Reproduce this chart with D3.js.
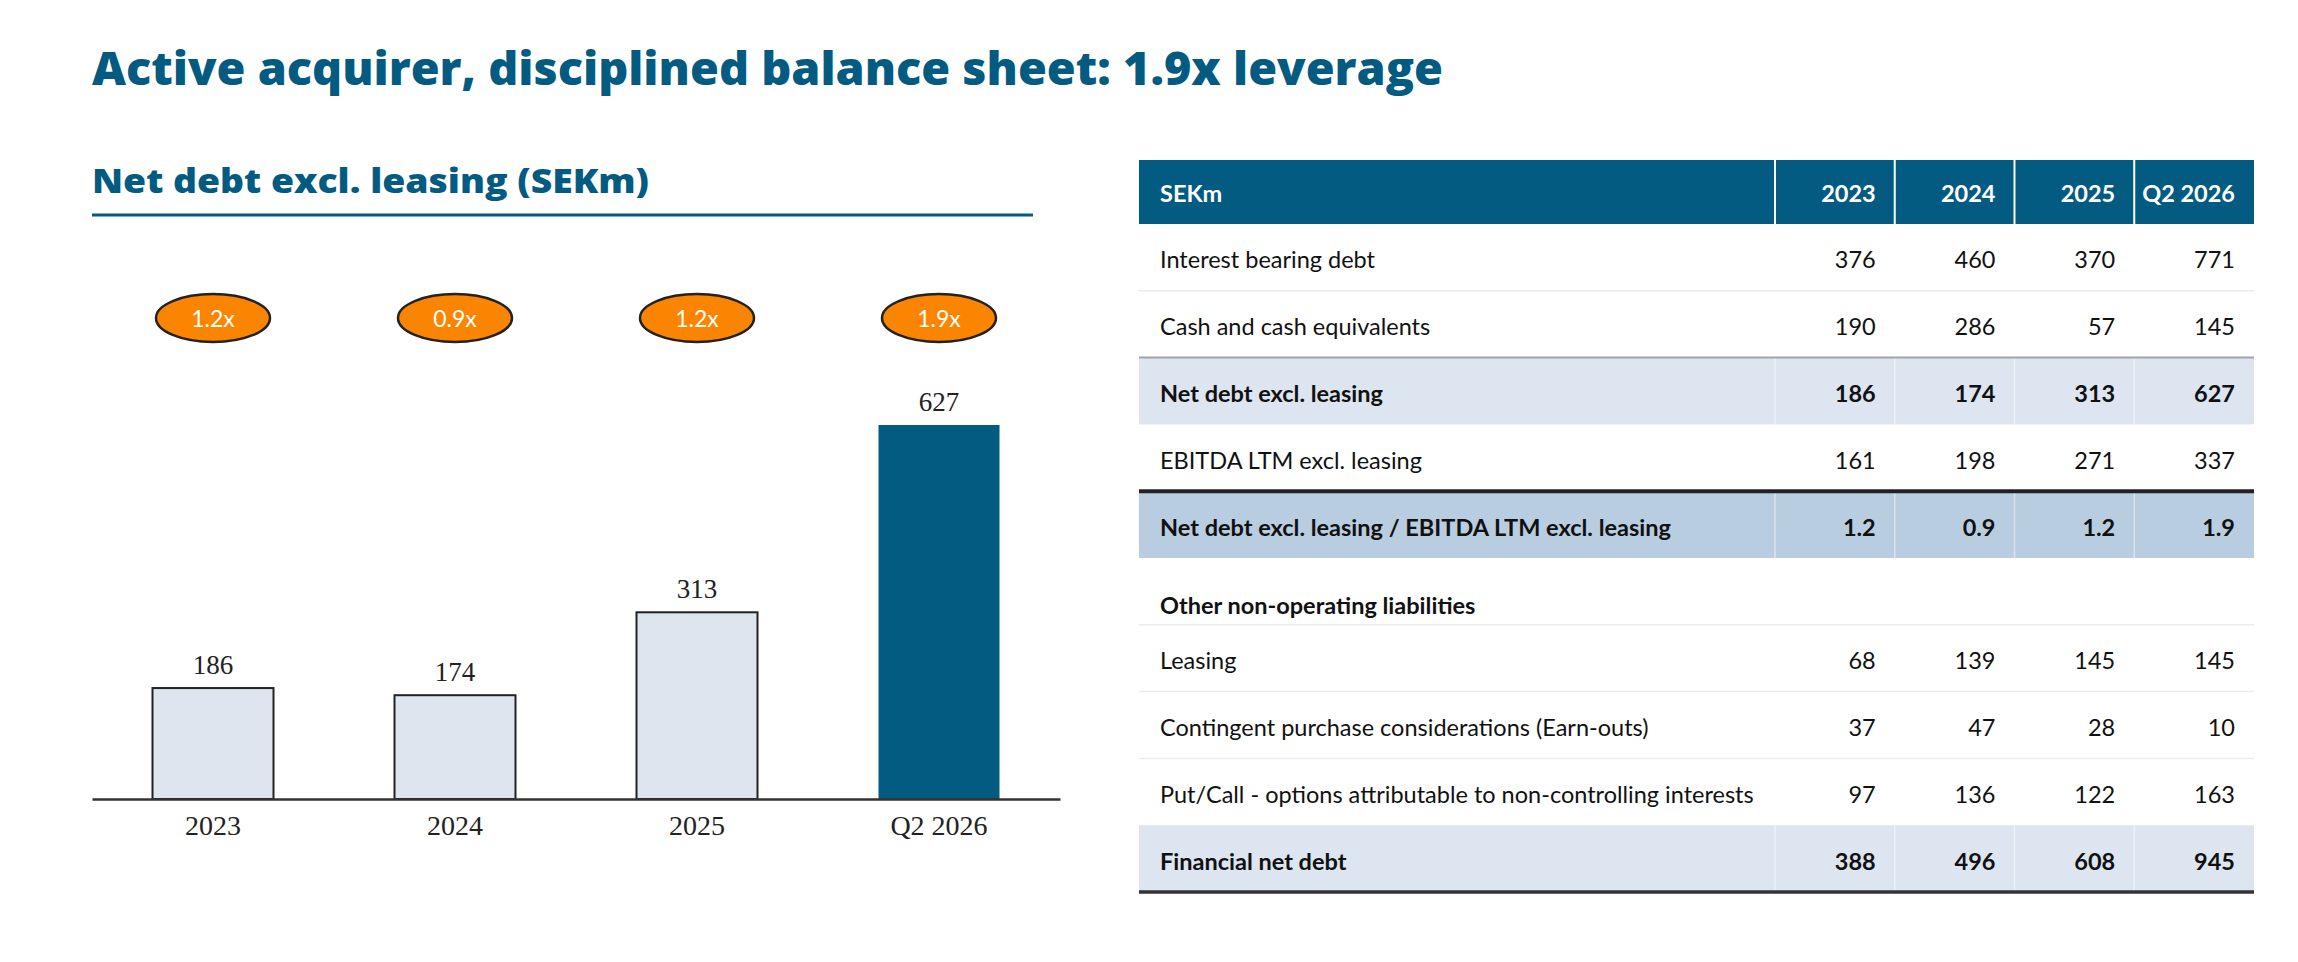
<!DOCTYPE html>
<html>
<head>
<meta charset="utf-8">
<script src="https://cdn.jsdelivr.net/npm/d3@7.9.0/dist/d3.min.js"></script>
<style>
  body { margin: 0; background: #fff; }
  svg { display: block; }
</style>
</head>
<body>
<script>
// chart data
const years = ['2023', '2024', '2025', 'Q2 2026'];
const netDebt = [186, 174, 313, 627];
const leverage = ['1.2x', '0.9x', '1.2x', '1.9x'];

// table data
const tableHeader = 'SEKm';
const interestBearingDebt = [376, 460, 370, 771];
const cashEquivalents = [190, 286, 57, 145];
const netDebtRow = [186, 174, 313, 627];
const ebitdaLtm = [161, 198, 271, 337];
const leverageRatio = [1.2, 0.9, 1.2, 1.9];
const leasing = [68, 139, 145, 145];
const earnOuts = [37, 47, 28, 10];
const putCall = [97, 136, 122, 163];
const financialNetDebt = [388, 496, 608, 945];

const rows = [
    { label: 'Interest bearing debt', values: interestBearingDebt, kind: 'plain' },
    { label: 'Cash and cash equivalents', values: cashEquivalents, kind: 'plain' },
    { label: 'Net debt excl. leasing', values: netDebtRow, kind: 'total' },
    { label: 'EBITDA LTM excl. leasing', values: ebitdaLtm, kind: 'plain' },
    { label: 'Net debt excl. leasing / EBITDA LTM excl. leasing', values: leverageRatio, kind: 'ratio' },
    { label: 'Other non-operating liabilities', values: null, kind: 'section' },
    { label: 'Leasing', values: leasing, kind: 'plain' },
    { label: 'Contingent purchase considerations (Earn-outs)', values: earnOuts, kind: 'plain' },
    { label: 'Put/Call - options attributable to non-controlling interests', values: putCall, kind: 'plain' },
    { label: 'Financial net debt', values: financialNetDebt, kind: 'total' },
];

const width = 2298;
const height = 962;
const blue = '#035b81';
const sansFont = 'Lato, sans-serif';
const serifFont = '"Liberation Serif", serif';
const titleFont = '"Open Sans", sans-serif';
const tableFontSize = '23.5px';

const svg = d3.select('body')
    .append('svg')
    .attr('width', width)
    .attr('height', height)
    .attr('viewBox', `0 0 ${width} ${height}`);

// titles
svg.append('text')
    .attr('x', 92)
    .attr('y', 85)
    .attr('textLength', 1351)
    .attr('lengthAdjust', 'spacingAndGlyphs')
    .style('font-family', titleFont)
    .style('font-weight', 800)
    .style('font-size', '46px')
    .attr('fill', blue)
    .text('Active acquirer, disciplined balance sheet: 1.9x leverage');

svg.append('text')
    .attr('x', 92)
    .attr('y', 193)
    .attr('textLength', 557)
    .attr('lengthAdjust', 'spacingAndGlyphs')
    .style('font-family', titleFont)
    .style('font-weight', 800)
    .style('font-size', '34px')
    .attr('fill', blue)
    .text('Net debt excl. leasing (SEKm)');

svg.append('line')
    .attr('x1', 92).attr('x2', 1033)
    .attr('y1', 215).attr('y2', 215)
    .attr('stroke', blue)
    .attr('stroke-width', 3);

// bar chart
const chartData = years.map((d, i) => ({ year: d, value: netDebt[i], lev: leverage[i] }));

const xScale = d3.scaleBand()
    .domain(years)
    .range([92, 1060])
    .paddingInner(0.5)
    .paddingOuter(0.25);
const yScale = d3.scaleLinear()
    .domain([0, d3.max(netDebt)])
    .range([799, 425]);

const bars = svg.append('g').attr('class', 'bars');
bars.selectAll('rect')
    .data(chartData)
    .join('rect')
    .attr('x', (d) => xScale(d.year))
    .attr('y', (d) => yScale(d.value))
    .attr('width', xScale.bandwidth())
    .attr('height', (d) => yScale(0) - yScale(d.value))
    .attr('fill', (d, i) => i === years.length - 1 ? blue : '#dee5ef')
    .attr('stroke', (d, i) => i === years.length - 1 ? 'none' : '#222')
    .attr('stroke-width', 2);

bars.selectAll('text.value')
    .data(chartData)
    .join('text')
    .attr('class', 'value')
    .attr('x', (d) => xScale(d.year) + xScale.bandwidth() / 2)
    .attr('y', (d) => yScale(d.value) - 14)
    .attr('text-anchor', 'middle')
    .style('font-family', serifFont)
    .style('font-size', '27px')
    .attr('fill', '#222')
    .text((d) => d.value);

// x axis
const xAxis = svg.append('g')
    .attr('transform', `translate(0, ${yScale(0)})`)
    .call(d3.axisBottom(xScale).tickSize(0).tickPadding(16));
xAxis.select('.domain').attr('stroke', '#333').attr('stroke-width', 2.5);
xAxis.selectAll('text')
    .style('font-family', serifFont)
    .style('font-size', '28px')
    .attr('fill', '#222');

// leverage bubbles
const bubbles = svg.append('g').attr('class', 'bubbles');
bubbles.selectAll('ellipse')
    .data(chartData)
    .join('ellipse')
    .attr('cx', (d) => xScale(d.year) + xScale.bandwidth() / 2)
    .attr('cy', 318)
    .attr('rx', 57)
    .attr('ry', 24)
    .attr('fill', '#fb8500')
    .attr('stroke', '#222')
    .attr('stroke-width', 2.5);
bubbles.selectAll('text')
    .data(chartData)
    .join('text')
    .attr('x', (d) => xScale(d.year) + xScale.bandwidth() / 2)
    .attr('y', 327)
    .attr('text-anchor', 'middle')
    .style('font-family', sansFont)
    .style('font-size', '23px')
    .attr('fill', '#fff')
    .text((d) => d.lev);

// table
const tableLeft = 1139;
const tableRight = 2254;
const headerTop = 160;
const headerBottom = 224;
const tableBottom = 892;

const colScale = d3.scaleBand()
    .domain(years)
    .range([1775, tableRight]);
const rowScale = d3.scaleBand()
    .domain(d3.range(rows.length))
    .range([headerBottom, tableBottom]);

const table = svg.append('g').attr('class', 'table');

// header
table.append('rect')
    .attr('x', tableLeft)
    .attr('y', headerTop)
    .attr('width', tableRight - tableLeft)
    .attr('height', headerBottom - headerTop)
    .attr('fill', blue);
table.selectAll('line.hsep')
    .data(years)
    .join('line')
    .attr('class', 'hsep')
    .attr('x1', (d) => colScale(d)).attr('x2', (d) => colScale(d))
    .attr('y1', headerTop).attr('y2', headerBottom)
    .attr('stroke', '#fff')
    .attr('stroke-width', 2);
table.append('text')
    .attr('x', 1160)
    .attr('y', 202)
    .style('font-family', sansFont)
    .style('font-weight', 700)
    .style('font-size', tableFontSize)
    .attr('fill', '#fff')
    .text(tableHeader);
table.selectAll('text.hyear')
    .data(years)
    .join('text')
    .attr('class', 'hyear')
    .attr('x', (d) => colScale(d) + colScale.bandwidth() - 19)
    .attr('y', 202)
    .attr('text-anchor', 'end')
    .style('font-family', sansFont)
    .style('font-weight', 700)
    .style('font-size', tableFontSize)
    .attr('fill', '#fff')
    .text((d) => d);

// row backgrounds
const rowFill = { total: '#dce5f0', ratio: '#b9cde1' };
table.selectAll('rect.rowbg')
    .data(rows.map((r, i) => ({ ...r, i })).filter((r) => rowFill[r.kind]))
    .join('rect')
    .attr('class', 'rowbg')
    .attr('x', tableLeft)
    .attr('y', (d) => rowScale(d.i))
    .attr('width', tableRight - tableLeft)
    .attr('height', rowScale.bandwidth())
    .attr('fill', (d) => rowFill[d.kind]);

// faint column lines inside shaded rows
rows.forEach((r, i) => {
    if (!rowFill[r.kind]) return;
    table.selectAll(null)
        .data(years)
        .join('line')
        .attr('x1', (d) => colScale(d)).attr('x2', (d) => colScale(d))
        .attr('y1', rowScale(i)).attr('y2', rowScale(i) + rowScale.bandwidth())
        .attr('stroke', '#fff')
        .attr('stroke-opacity', 0.45)
        .attr('stroke-width', 1.5);
});

// row separators
const separators = [
    { after: 0, color: '#ececec', w: 1.5 },
    { after: 1, color: '#a3a3a3', w: 2 },
    { after: 3, color: '#222', w: 4 },
    { after: 5, color: '#ececec', w: 1.5 },
    { after: 6, color: '#ececec', w: 1.5 },
    { after: 7, color: '#ececec', w: 1.5 },
    { after: 9, color: '#333', w: 3.5 },
];
table.selectAll('line.rowsep')
    .data(separators)
    .join('line')
    .attr('class', 'rowsep')
    .attr('x1', tableLeft).attr('x2', tableRight)
    .attr('y1', (d) => rowScale(d.after) + rowScale.bandwidth())
    .attr('y2', (d) => rowScale(d.after) + rowScale.bandwidth())
    .attr('stroke', (d) => d.color)
    .attr('stroke-width', (d) => d.w);

// row text
const isBold = (r) => r.kind !== 'plain';
const fmt = (r, v) => r.kind === 'ratio' ? d3.format('.1f')(v) : String(v);

const rowGroups = table.selectAll('g.row')
    .data(rows)
    .join('g')
    .attr('class', 'row')
    .attr('transform', (d, i) => `translate(0, ${rowScale(i) + rowScale.bandwidth() / 2 + 11})`);

rowGroups.append('text')
    .attr('x', 1160)
    .attr('y', (d) => d.kind === 'section' ? 12 : 0)
    .style('font-family', sansFont)
    .style('font-weight', (d) => isBold(d) ? 700 : 400)
    .style('font-size', tableFontSize)
    .attr('fill', '#111')
    .text((d) => d.label);

rowGroups.selectAll('text.num')
    .data((r) => r.values ? r.values.map((v, j) => ({ r, v, year: years[j] })) : [])
    .join('text')
    .attr('class', 'num')
    .attr('x', (d) => colScale(d.year) + colScale.bandwidth() - 19)
    .attr('text-anchor', 'end')
    .style('font-family', sansFont)
    .style('font-weight', (d) => isBold(d.r) ? 700 : 400)
    .style('font-size', tableFontSize)
    .attr('fill', '#111')
    .text((d) => fmt(d.r, d.v));
</script>
</body>
</html>
